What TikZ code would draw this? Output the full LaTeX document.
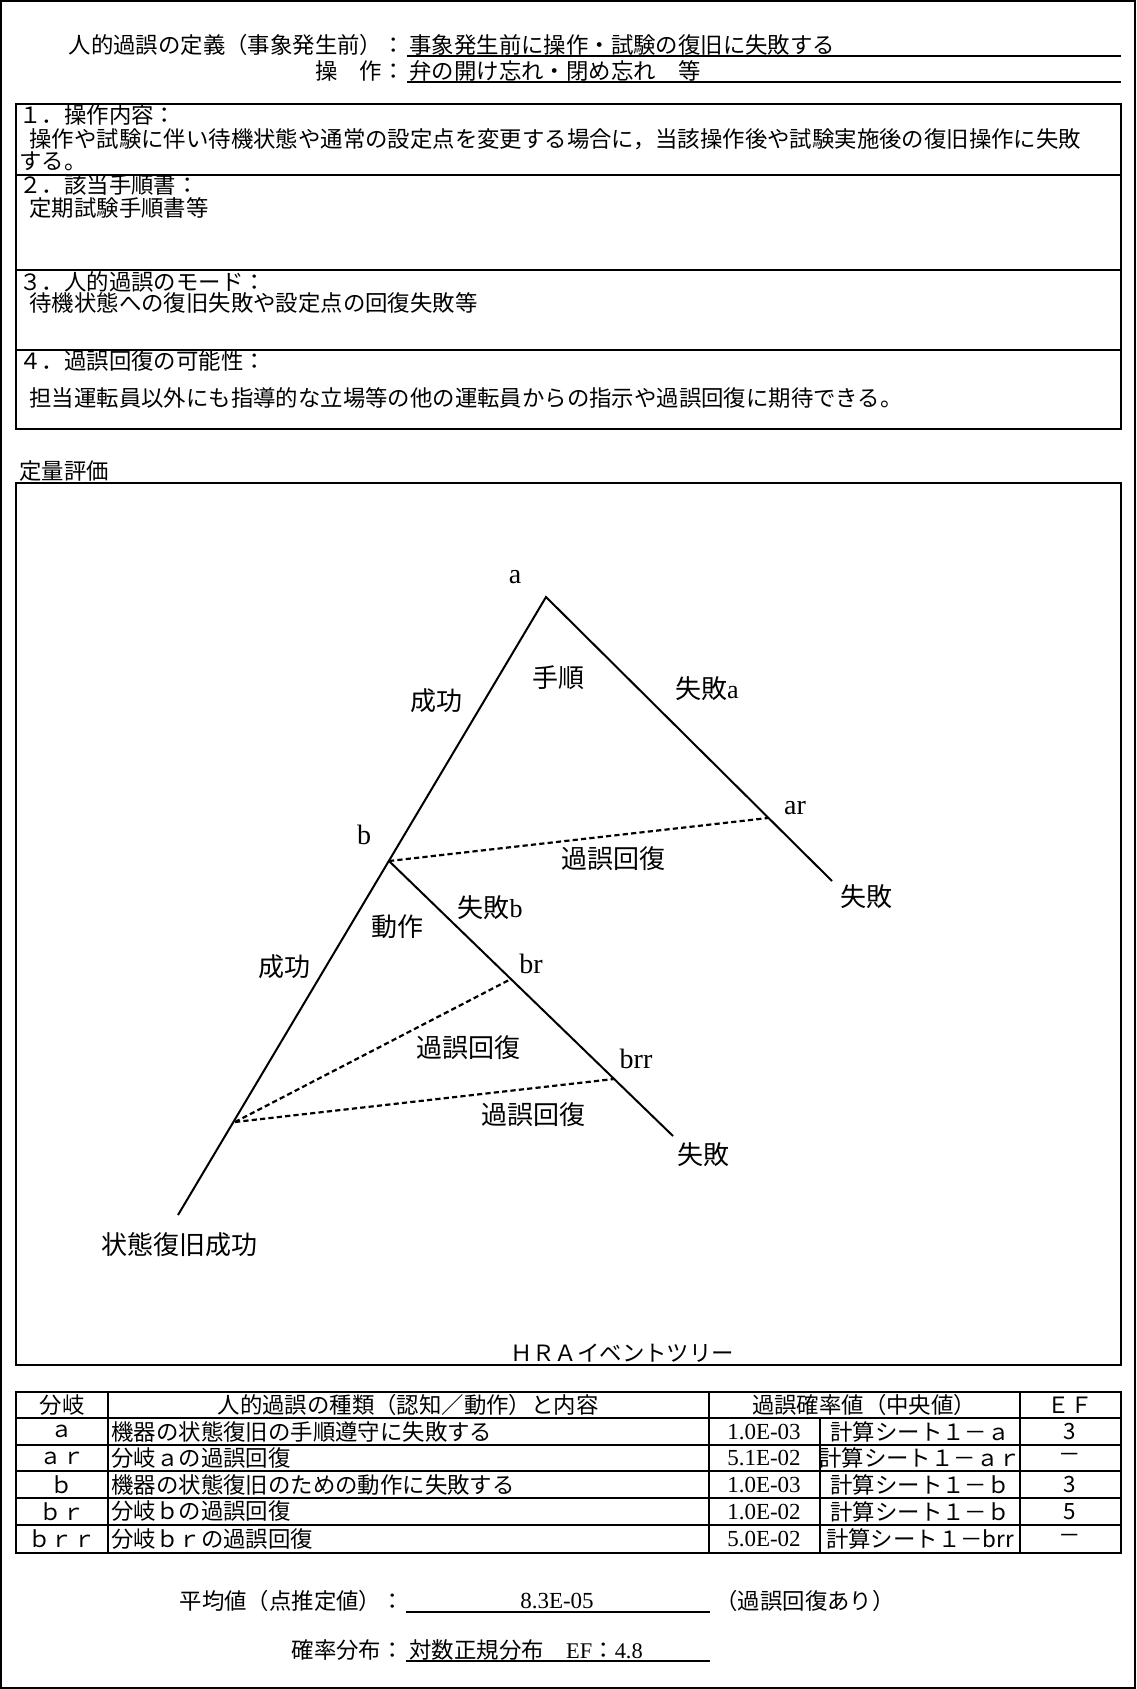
\documentclass[tikz,border=0pt]{standalone}
\usepackage{fontspec}
\setmainfont{Noto Sans CJK JP}
\newfontfamily\lat{Liberation Serif}
\begin{document}
\begin{tikzpicture}[x=0.5pt, y=-0.5pt,
		txt/.style={inner sep=0pt, anchor=west, font=\fontsize{11.2}{13}\selectfont},
		rtxt/.style={txt, anchor=east},
		ctxt/.style={txt, anchor=center},
		num/.style={ctxt, font=\lat\fontsize{11.5}{13}\selectfont},
		lbl/.style={inner sep=0pt, font=\fontsize{13}{15}\selectfont},
		ltr/.style={inner sep=0pt, font=\lat\fontsize{14}{16}\selectfont},
		box/.style={draw=black, line width=0.8pt},
		uline/.style={line width=1pt},
		branch/.style={line width=1pt},
		recov/.style={line width=1.1pt, dash pattern=on 2.6pt off 1.6pt}]
	\useasboundingbox (0,0) rectangle (1136,1689);
	\draw[box, line width=1pt] (1,1) rectangle (1135,1688);
	% header
	\node[rtxt] (defkey) at (405,45) {人的過誤の定義（事象発生前）：};
	\node[txt] (defval) at (409,45) {事象発生前に操作・試験の復旧に失敗する};
	\node[rtxt] (opkey) at (405,71) {操　作：};
	\node[txt] (opval) at (409,71) {弁の開け忘れ・閉め忘れ　等};
	\draw[uline] (407,56) -- (1121,56);
	\draw[uline] (407,82) -- (1121,82);
	% sections
	\draw[box] (16,104) rectangle (1121,429);
	\foreach \y in {175,270,350}
		\draw[box] (16,\y) -- (1121,\y);
	\node[txt] (sec1) at (19,115) {１．操作内容：};
	\node[txt] (sec1a) at (29,139) {操作や試験に伴い待機状態や通常の設定点を変更する場合に，当該操作後や試験実施後の復旧操作に失敗};
	\node[txt] (sec1b) at (19,161) {する。};
	\node[txt] (sec2) at (19,185) {２．該当手順書：};
	\node[txt] (sec2a) at (29,208) {定期試験手順書等};
	\node[txt] (sec3) at (19,282) {３．人的過誤のモード：};
	\node[txt] (sec3a) at (29,303) {待機状態への復旧失敗や設定点の回復失敗等};
	\node[txt] (sec4) at (19,361) {４．過誤回復の可能性：};
	\node[txt] (sec4a) at (29,398) {担当運転員以外にも指導的な立場等の他の運転員からの指示や過誤回復に期待できる。};
	% event tree
	\node[txt] (quant) at (19,471) {定量評価};
	\draw[box] (16,483) rectangle (1121,1365);
	\coordinate (a) at (546,597);
	\coordinate (ok) at (178,1215);
	\coordinate (fa) at (832,881);
	\coordinate (b) at (389,861);
	\coordinate (ar) at (768,818);
	\coordinate (fb) at (673,1136);
	\coordinate (br) at (511,979);
	\coordinate (brr) at (614,1079);
	\coordinate (rb) at (235,1122);
	\draw[branch] (ok) -- (a) -- (fa);
	\draw[branch] (b) -- (fb);
	\draw[recov] (b) -- (ar);
	\draw[recov] (rb) -- (br);
	\draw[recov] (rb) -- (brr);
	\node[ltr] (la) at (515,577) {a};
	\node[ltr] (lb) at (364,835) {b};
	\node[ltr] (lar) at (795,808) {ar};
	\node[ltr] (lbr) at (531,964) {br};
	\node[ltr] (lbrr) at (636,1059) {brr};
	\node[lbl] (succ1) at (436,701) {成功};
	\node[lbl] (proc) at (558,678) {手順};
	\node[lbl] (faila) at (707,689) {失敗{\lat a}};
	\node[lbl] (rec1) at (613,859) {過誤回復};
	\node[lbl] (act) at (397,927) {動作};
	\node[lbl] (failb) at (490,908) {失敗{\lat b}};
	\node[lbl] (succ2) at (284,967) {成功};
	\node[lbl] (rec2) at (468,1048) {過誤回復};
	\node[lbl] (rec3) at (533,1115) {過誤回復};
	\node[lbl] (end1) at (866,897) {失敗};
	\node[lbl] (end2) at (703,1155) {失敗};
	\node[lbl] (endok) at (179,1245) {状態復旧成功};
	\node[ctxt] (cap) at (622,1353) {ＨＲＡイベントツリー};
	% table
	\draw[box] (16,1392) rectangle (1121,1553);
	\foreach \y in {1418,1445,1471,1498,1525}
		\draw[box] (16,\y) -- (1121,\y);
	\foreach \x in {108,709,1020}
		\draw[box] (\x,1392) -- (\x,1553);
	\draw[box] (820,1418) -- (820,1553);
	\node[ctxt] (hid) at (62,1405) {分岐};
	\node[ctxt] (hwhat) at (408,1405) {人的過誤の種類（認知／動作）と内容};
	\node[ctxt] (hval) at (864,1405) {過誤確率値（中央値）};
	\node[ctxt] (hef) at (1070,1405) {ＥＦ};
	\foreach \y/\id/\what/\p/\src/\ef in {
			1431.5/ａ/機器の状態復旧の手順遵守に失敗する/1.0E-03/計算シート１－ａ/3,
			1458/ａｒ/分岐ａの過誤回復/5.1E-02/計算シート１－ａｒ/－,
			1484.5/ｂ/機器の状態復旧のための動作に失敗する/1.0E-03/計算シート１－ｂ/3,
			1511.5/ｂｒ/分岐ｂの過誤回復/1.0E-02/計算シート１－ｂ/5,
			1539/ｂｒｒ/分岐ｂｒの過誤回復/5.0E-02/計算シート１－brr/－}
	{
		\node[ctxt] (id\y) at (62,\y) {\id};
		\node[txt] (what\y) at (111,\y) {\what};
		\node[num] (p\y) at (764,\y) {\p};
		\node[ctxt] (src\y) at (920,\y) {\src};
		\node[ctxt] (ef\y) at (1070,\y) {\ef};
	}
	% result
	\node[rtxt] (meankey) at (404,1601) {平均値（点推定値）：};
	\node[num] (meanval) at (557,1601) {8.3E-05};
	\node[txt] (meannote) at (715,1601) {（過誤回復あり）};
	\draw[uline] (406,1612) -- (710,1612);
	\node[rtxt] (distkey) at (404,1650) {確率分布：};
	\node[txt] (distval) at (409,1650) {対数正規分布　{\lat EF}：{\lat 4.8}};
	\draw[uline] (406,1661) -- (710,1661);
\end{tikzpicture}
\end{document}
